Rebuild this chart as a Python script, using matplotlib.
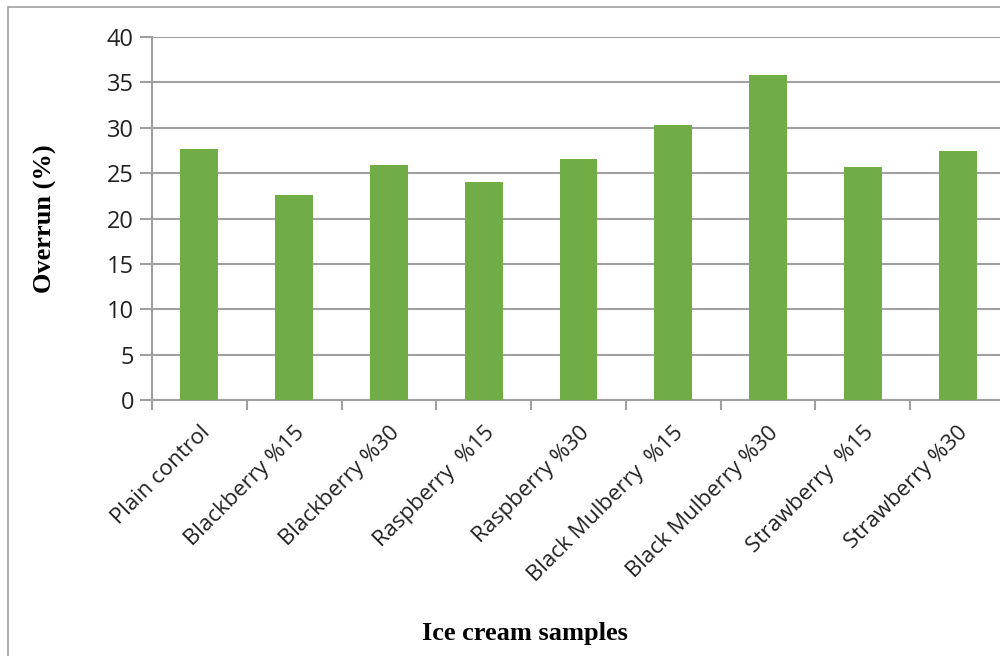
import matplotlib.pyplot as plt
import numpy as np
from matplotlib.patches import Rectangle

# Data
samples = ['Plain control', 'Blackberry %15', 'Blackberry %30', 'Raspberry  %15',
           'Raspberry %30', 'Black Mulberry  %15', 'Black Mulberry %30',
           'Strawberry  %15', 'Strawberry %30']
overrun = [27.7, 22.6, 25.9, 24.0, 26.6, 30.3, 35.8, 25.7, 27.4]

grey = '#a0a0a0'
green = '#70ad47'

fig = plt.figure(figsize=(10, 6.56), dpi=100)
ax = fig.add_axes([0.152, 0.3902, 0.853, 0.5534])

x = np.arange(len(samples))
ax.bar(x, overrun, width=0.4, color=green, zorder=3)

ax.set_xlim(-0.5, len(samples) - 0.5)
ax.set_ylim(0, 40)
ax.set_yticks(range(0, 41, 5))
ax.yaxis.grid(True, color=grey, linewidth=1.5, zorder=0)

for s in ['top', 'right']:
    ax.spines[s].set_visible(False)
ax.spines['left'].set_color(grey)
ax.spines['bottom'].set_color(grey)
ax.spines['left'].set_linewidth(1.5)
ax.spines['bottom'].set_linewidth(1.5)

# category labels, boundary ticks
ax.set_xticks(x)
ax.set_xticklabels(samples, rotation=45, ha='right', rotation_mode='anchor',
                   fontsize=16, family='Open Sans', color='#222222')
ax.tick_params(axis='x', which='major', length=0, pad=16)
ax.set_xticks(np.arange(-0.5, len(samples), 1), minor=True)
ax.tick_params(axis='x', which='minor', length=7, width=1.5, color=grey)
ax.tick_params(axis='y', length=9, width=1.5, color=grey, labelsize=17,
               labelcolor='#222222', pad=4)
for t in ax.get_yticklabels():
    t.set_family('Open Sans')

ax.set_ylabel('Overrun (%)', family='Liberation Serif', fontweight='bold',
              fontsize=19, labelpad=36)
fig.text(0.525, 0.035, 'Ice cream samples', family='Liberation Serif',
         fontweight='bold', fontsize=19, ha='center', va='center')

# outer frame of the chart area
fig.patches.append(Rectangle((0.008, -0.1), 1.1, 1.1 - 0.011, transform=fig.transFigure,
                             fill=False, edgecolor=grey, linewidth=1.2))

plt.savefig('out.png', dpi=100)
